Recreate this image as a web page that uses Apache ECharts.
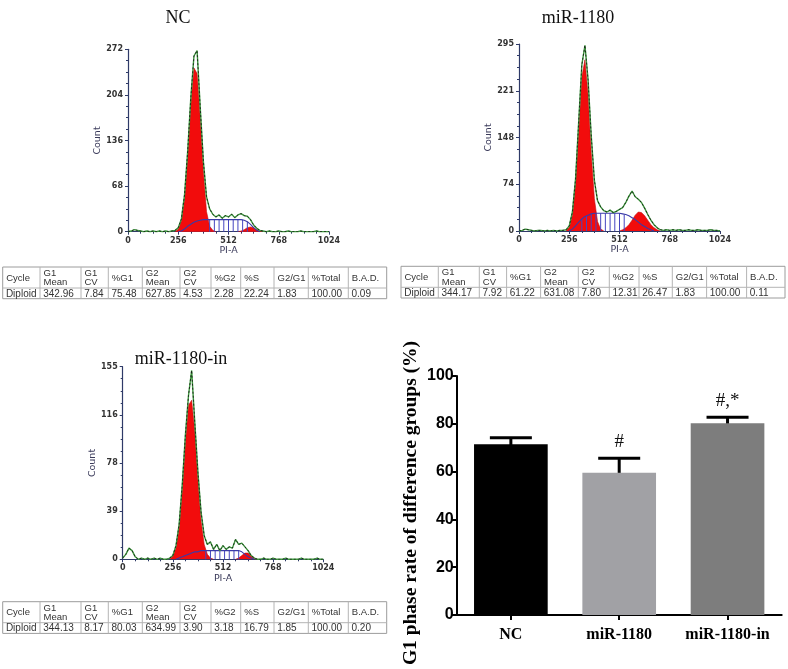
<!DOCTYPE html>
<html><head><meta charset="utf-8">
<script src="https://cdn.jsdelivr.net/npm/echarts@6/dist/echarts.min.js"></script>
<style>html,body{margin:0;padding:0;background:#fff}#chart{width:788px;height:669px}</style>
</head><body><div id="chart"></div>
<script>
// ---------- DATA ----------
const panelTitles = ['NC', 'miR-1180', 'miR-1180-in'];
const histXTicks = [0, 256, 512, 768, 1024];
const histYMax = [272, 295, 155];   // top tick label of each Count axis

const channels = [0,16,32,48,64,80,96,112,128,144,160,176,192,208,224,240,256,272,288,304,320,336,352,368,384,400,416,432,448,464,480,496,512,528,544,560,576,592,608,624,640,656,672,688,704,720,736,752,768,784,800,816,832,848,864,880,896,912,928,944,960,976,992,1008,1024];

// measured histogram counts (per 16 channels)
const ncTotal = [0,1,3,2,1,0,1,0,1,0,1,0,1,0,1,2,
  6,19,55,120,200,262,270,185,105,52,34,26,22,25,20,24,
  22,26,21,25,27,24,23,18,10,5,2,1,0,1,0,0,
  1,0,0,1,0,0,0,1,0,0,0,0,1,0,0,0,0];
const mirTotal = [0,1,3,2,1,0,1,1,0,1,0,1,0,1,1,2,
  8,30,82,172,262,293,238,150,80,48,38,32,30,33,29,31,
  34,37,45,55,63,54,50,45,36,26,17,10,5,2,1,2,
  1,2,1,2,1,1,2,1,1,2,1,1,1,2,1,1,0];
const inTotal = [1,4,9,7,2,0,1,0,1,0,1,0,1,0,0,1,
  3,11,28,60,100,132,152,110,70,38,19,12,14,8,12,7,
  11,8,10,9,16,12,13,10,7,3,1,0,0,1,0,0,
  1,0,0,0,1,0,0,0,0,1,0,0,0,0,1,0,0];

// model components [channel, count]
const ncG1 = [[240,0],[256,4],[272,16],[288,49],[304,112],[320,190],[336,244],[352,236],[368,171],[384,90],[400,30],[416,8],[432,2],[448,0]];
const ncG2 = [[560,0],[576,1],[592,3],[608,6],[624,7],[640,6],[656,3],[672,1],[688,0]];
const ncS = [[256,0],[272,1],[288,4],[304,8],[320,11],[336,14],[352,16],[368,17],[384,18],[400,18],[416,18],[432,18],[448,18],[464,18],[480,18],[496,18],[512,18],[528,18],[544,18],[560,18],[576,18],[592,17],[608,15],[624,11],[640,6],[656,2],[672,0]];
const ncHatch = [[416,18],[440,18],[464,18],[488,18],[512,18],[536,18],[560,18],[584,18],[608,15]];

const mirG1 = [[240,1],[256,6],[272,25],[288,74],[304,158],[320,243],[336,270],[352,214],[368,123],[384,51],[400,15],[416,3],[432,0]];
const mirG2 = [[512,0],[528,2],[544,5],[560,10],[576,17],[592,25],[608,30],[624,29],[640,24],[656,17],[672,10],[688,5],[704,2],[720,0]];
const mirS = [[256,0],[272,3],[288,8],[304,14],[320,19],[336,23],[352,25],[368,27],[384,28],[400,28],[416,28],[432,28],[448,28],[464,28],[480,28],[496,28],[512,28],[528,27],[544,26],[560,24],[576,21],[592,18],[608,14],[624,10],[640,7],[656,4],[672,2],[688,0]];
const mirHatch = [[320,19],[344,24],[368,27],[392,28],[416,28],[440,28],[464,28],[488,28],[512,28],[536,26]];

const inG1 = [[240,0],[256,3],[272,9],[288,25],[304,55],[320,94],[336,124],[352,128],[368,103],[384,64],[400,31],[416,12],[432,4],[448,1],[464,0]];
const inG2 = [[576,0],[592,1],[608,3],[624,5],[640,5],[656,3],[672,1],[688,0]];
const inS = [[272,0],[288,1],[304,2],[320,3],[336,4],[352,5],[368,6],[384,6],[400,7],[416,7],[432,7],[448,7],[464,7],[480,7],[496,7],[512,7],[528,7],[544,7],[560,7],[576,7],[592,7],[608,6],[624,4],[640,2],[656,1],[672,0]];
const inHatch = [[424,7],[448,7],[472,7],[496,7],[520,7],[544,7],[568,7],[592,7]];

// tables
const tableHeader = ['Cycle','G1\nMean','G1\nCV','%G1','G2\nMean','G2\nCV','%G2','%S','G2/G1','%Total','B.A.D.'];
const ncStats  = ['Diploid','342.96','7.84','75.48','627.85','4.53','2.28','22.24','1.83','100.00','0.09'];
const mirStats = ['Diploid','344.17','7.92','61.22','631.08','7.80','12.31','26.47','1.83','100.00','0.11'];
const inStats  = ['Diploid','344.13','8.17','80.03','634.99','3.90','3.18','16.79','1.85','100.00','0.20'];

// bar chart
const groups = ['NC', 'miR-1180', 'miR-1180-in'];
const g1Rate = [71.4, 59.5, 80.2];
const g1Sd = [2.8, 6.1, 2.5];
const sigMarks = ['', '#', '#,*'];
const barTicks = [0, 20, 40, 60, 80, 100];
const yTitle = 'G1 phase rate of difference groups (%)';

// ---------- LAYOUT ----------
const histGrids = [
  {left: 128, top: 49.3, width: 201, height: 182.4},
  {left: 519, top: 44, width: 201, height: 187},
  {left: 122.7, top: 366.7, width: 200.6, height: 192.6}
];
const barGrid = {left: 456.7, top: 376, width: 325, height: 239};
const titlePos = [[178, 18], [578, 18], [181, 359]];
const tablePos = [[2.7, 267], [401, 266.3], [2.7, 601.7]];
const colW = [37.3,41,27.3,34,37.7,31,29.7,33.3,34.3,40,38.4];

const navy = '#2f3a68';
const histFont = 'DejaVu Sans';

const histSets = [
  {total: ncTotal, g1: ncG1, g2: ncG2, s: ncS, hatch: ncHatch},
  {total: mirTotal, g1: mirG1, g2: mirG2, s: mirS, hatch: mirHatch},
  {total: inTotal, g1: inG1, g2: inG2, s: inS, hatch: inHatch}
];

const grids = [], xAxes = [], yAxes = [], series = [];
histSets.forEach((h, gi) => {
  grids.push(Object.assign({containLabel: false, outerBoundsMode: 'none'}, histGrids[gi]));
  xAxes.push({
    gridIndex: gi, type: 'value', min: histXTicks[0], max: histXTicks[histXTicks.length - 1],
    interval: histXTicks[1] - histXTicks[0],
    axisLine: {show: true, lineStyle: {color: navy, width: 1.2}},
    axisTick: {show: true, length: 3, lineStyle: {color: navy}},
    minorTick: {show: true, splitNumber: 4, length: 2, lineStyle: {color: navy}},
    splitLine: {show: false},
    axisLabel: {fontSize: 8, fontWeight: 'bold', fontFamily: histFont, color: '#333', margin: 5,
      formatter: v => String(v)},
    name: 'PI-A', nameLocation: 'middle', nameGap: 14,
    nameTextStyle: {fontSize: 9.5, fontFamily: histFont, color: '#3a3a5a'}
  });
  yAxes.push({
    gridIndex: gi, type: 'value', min: 0, max: histYMax[gi], interval: histYMax[gi] / 4,
    axisLine: {show: true, lineStyle: {color: navy, width: 1.2}},
    axisTick: {show: true, length: 3, lineStyle: {color: navy}},
    minorTick: {show: true, splitNumber: 4, length: 2, lineStyle: {color: navy}},
    splitLine: {show: false},
    axisLabel: {fontSize: 8, fontWeight: 'bold', fontFamily: histFont, color: '#333', margin: 5,
      formatter: v => String(Math.round(v))},
    name: 'Count', nameLocation: 'middle', nameGap: 25,
    nameTextStyle: {fontSize: 9.5, fontFamily: histFont, color: '#3a3a5a'}
  });
  const totalPairs = channels.map((c, i) => [c, h.total[i]]);
  [h.g1, h.g2].forEach(comp => series.push({
    type: 'line', xAxisIndex: gi, yAxisIndex: gi, data: comp, symbol: 'none', z: 2,
    lineStyle: {color: '#c01010', width: 0.6}, areaStyle: {color: '#f20c0c', opacity: 1}
  }));
  series.push({
    type: 'line', xAxisIndex: gi, yAxisIndex: gi, data: h.s, symbol: 'none', z: 3,
    lineStyle: {color: '#3a3aa8', width: 1.1}
  });
  series.push({
    type: 'custom', xAxisIndex: gi, yAxisIndex: gi, data: h.hatch, z: 3,
    renderItem: (p, api) => {
      const a = api.coord([api.value(0), 0]);
      const b = api.coord([api.value(0), api.value(1)]);
      return {type: 'line', shape: {x1: a[0], y1: a[1], x2: b[0], y2: b[1]},
        style: {stroke: '#4646c0', lineWidth: 1}};
    }
  });
  series.push({
    type: 'line', xAxisIndex: gi, yAxisIndex: gi, data: totalPairs, symbol: 'none', z: 4,
    lineStyle: {color: '#3f9a3f', width: 1.4}
  });
  series.push({
    type: 'line', xAxisIndex: gi, yAxisIndex: gi, data: totalPairs, symbol: 'none', z: 5,
    lineStyle: {color: '#111', width: 0.8, type: [2, 2]}
  });
});

// bar chart
const bi = 3;
grids.push(Object.assign({containLabel: false, outerBoundsMode: 'none'}, barGrid));
xAxes.push({
  gridIndex: bi, type: 'category', data: groups,
  axisLine: {show: true, lineStyle: {color: '#000', width: 2}},
  axisTick: {show: true, alignWithLabel: true, length: 5, lineStyle: {color: '#000', width: 2}},
  axisLabel: {interval: 0, fontFamily: 'Liberation Serif', fontWeight: 'bold', fontSize: 16, color: '#000', margin: 12}
});
yAxes.push({
  gridIndex: bi, type: 'value', min: barTicks[0], max: barTicks[barTicks.length - 1],
  interval: barTicks[1] - barTicks[0],
  axisLine: {show: true, lineStyle: {color: '#000', width: 2}},
  axisTick: {show: true, length: 5, lineStyle: {color: '#000', width: 2}},
  splitLine: {show: false},
  axisLabel: {fontFamily: 'Liberation Sans', fontWeight: 'bold', fontSize: 16, color: '#000', margin: 3}
});
const barColors = ['#000000', '#a1a1a5', '#7d7d7d'];
series.push({
  type: 'bar', xAxisIndex: bi, yAxisIndex: bi, barWidth: '68%', z: 2,
  data: g1Rate.map((v, i) => ({value: v, itemStyle: {color: barColors[i]}}))
});
series.push({
  type: 'custom', xAxisIndex: bi, yAxisIndex: bi, z: 1,
  data: g1Rate.map((v, i) => [i, v, g1Sd[i]]),
  renderItem: (p, api) => {
    const base = api.coord([api.value(0), api.value(1)]);
    const top = api.coord([api.value(0), api.value(1) + api.value(2)]);
    const half = 21;
    return {type: 'group', children: [
      {type: 'line', shape: {x1: top[0], y1: base[1] + 2, x2: top[0], y2: top[1]}, style: {stroke: '#000', lineWidth: 3}},
      {type: 'line', shape: {x1: top[0] - half, y1: top[1], x2: top[0] + half, y2: top[1]}, style: {stroke: '#000', lineWidth: 3}},
      {type: 'text', x: top[0], y: top[1] - 16, z2: 10,
        style: {text: sigMarks[p.dataIndex], font: '19px "Liberation Serif"', fill: '#111', align: 'center', verticalAlign: 'middle'}}
    ]};
  }
});

// ---------- graphics: titles + tables ----------
const graphics = [];
panelTitles.forEach((t, i) => graphics.push({
  type: 'text', x: titlePos[i][0], y: titlePos[i][1],
  style: {text: t, font: '18px "Liberation Serif"', fill: '#111', align: 'center', verticalAlign: 'middle'}
}));
graphics.push({
  type: 'text', x: 411, y: 503, rotation: Math.PI / 2,
  style: {text: yTitle, font: 'bold 19.5px "Liberation Serif"', fill: '#000', align: 'center', verticalAlign: 'middle'}
});

function buildTable(x0, y0, cells) {
  const hH = 21, dH = 10.7;
  const W = colW.reduce((a, b) => a + b, 0);
  graphics.push({type: 'rect', shape: {x: x0, y: y0, width: W, height: hH + dH},
    style: {fill: '#fff', stroke: '#9c9c9c', lineWidth: 1}});
  graphics.push({type: 'line', shape: {x1: x0, y1: y0 + hH, x2: x0 + W, y2: y0 + hH},
    style: {stroke: '#b4b4b4', lineWidth: 1}});
  let x = x0;
  colW.forEach((w, i) => {
    if (i > 0) graphics.push({type: 'line', shape: {x1: x, y1: y0, x2: x, y2: y0 + hH + dH},
      style: {stroke: '#b4b4b4', lineWidth: 1}});
    graphics.push({type: 'text', x: x + 3.5, y: y0 + hH / 2 + 0.5,
      style: {text: tableHeader[i], font: '9.5px "Liberation Sans"', fill: '#333', verticalAlign: 'middle', lineHeight: 9.5}});
    graphics.push({type: 'text', x: x + 3.2, y: y0 + hH + dH / 2 + 0.5,
      style: {text: cells[i], font: '10px "Liberation Sans"', fill: '#333', verticalAlign: 'middle'}});
    x += w;
  });
}
[ncStats, mirStats, inStats].forEach((row, i) => buildTable(tablePos[i][0], tablePos[i][1], row));

const chart = echarts.init(document.getElementById('chart'), null, {renderer: 'canvas'});
chart.setOption({
  backgroundColor: '#fff',
  animation: false,
  grid: grids, xAxis: xAxes, yAxis: yAxes, series: series,
  graphic: {elements: graphics}
});
</script></body></html>
